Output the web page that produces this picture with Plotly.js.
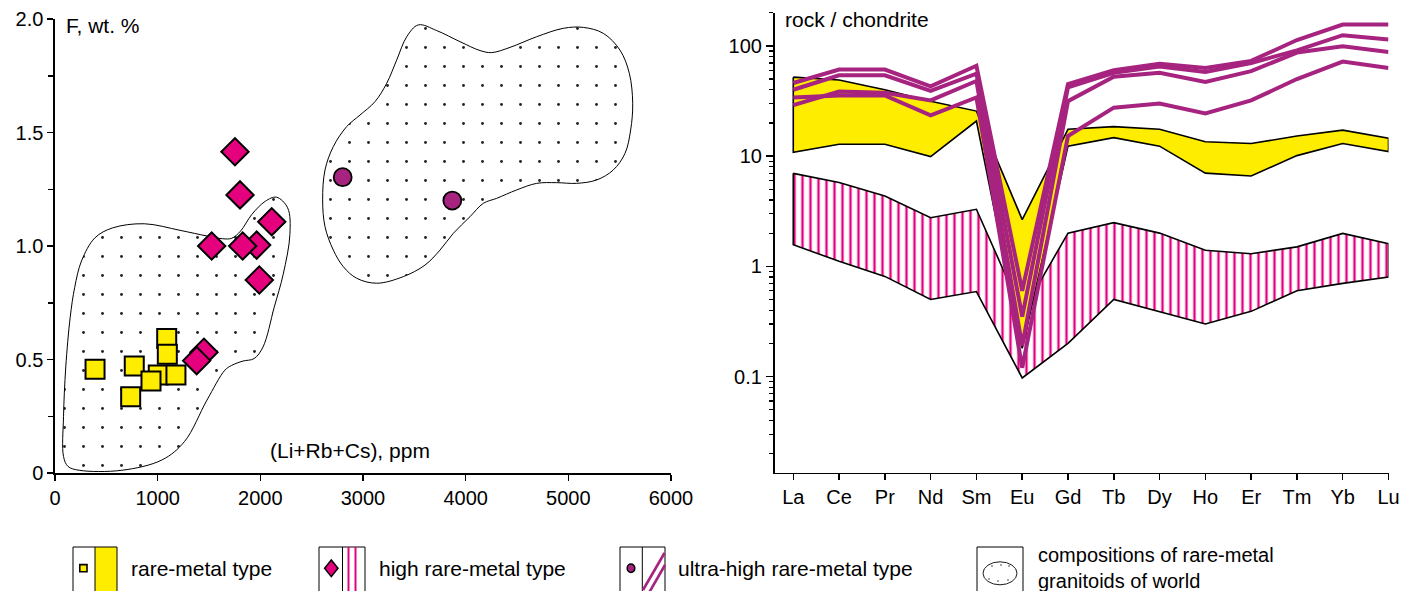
<!DOCTYPE html>
<html>
<head>
<meta charset="utf-8">
<script src="https://cdn.plot.ly/plotly-3.0.1.min.js"></script>
<style>html,body{margin:0;padding:0;background:#fff;}#chart{width:1411px;height:591px;}</style>
</head>
<body>
<div id="chart"></div>
<script>
// ---------- DATA: left diagram, F vs (Li+Rb+Cs) ----------
const rareX = [390, 772, 1088, 1094, 1006, 1178, 935, 737];
const rareY = [0.457, 0.471, 0.593, 0.523, 0.432, 0.432, 0.405, 0.336];
const highX = [1753, 1802, 2111, 1526, 1964, 1828, 1990, 1451, 1380];
const highY = [1.415, 1.225, 1.107, 1.0, 1.004, 1.0, 0.850, 0.532, 0.495];
const ultraX = [2802, 3870];
const ultraY = [1.303, 1.200];

// field outline: compositions of rare-metal granitoids of world (lower field)
const fieldLowX = [236, 651, 1044, 1262, 1480, 1655, 1721, 1830, 1939, 2026, 2135, 2223, 2288, 2266, 2157, 2048, 1917, 1808, 1721, 1633, 1480, 1218, 869, 563, 389, 258, 192, 148, 105, 83, 83, 127, 236];
const fieldLowY = [0.012, 0.012, 0.058, 0.139, 0.321, 0.453, 0.474, 0.493, 0.504, 0.555, 0.730, 0.876, 1.051, 1.168, 1.215, 1.197, 1.139, 1.066, 1.034, 1.032, 1.044, 1.069, 1.098, 1.080, 1.036, 0.934, 0.818, 0.686, 0.467, 0.248, 0.073, 0.029, 0.012];
// upper field
const fieldHighX = [3539, 3718, 3945, 4140, 4253, 4432, 4692, 4951, 5146, 5340, 5503, 5594, 5627, 5607, 5552, 5438, 5276, 5081, 4886, 4692, 4497, 4302, 4172, 4042, 3880, 3750, 3604, 3392, 3133, 2938, 2808, 2711, 2630, 2607, 2630, 2711, 2841, 2971, 3117, 3231, 3328, 3426, 3539];
const fieldHighY = [1.974, 1.949, 1.900, 1.861, 1.852, 1.875, 1.922, 1.959, 1.963, 1.937, 1.863, 1.761, 1.629, 1.511, 1.408, 1.335, 1.291, 1.276, 1.279, 1.276, 1.247, 1.210, 1.188, 1.129, 1.056, 0.982, 0.916, 0.865, 0.836, 0.858, 0.909, 0.982, 1.085, 1.203, 1.335, 1.438, 1.526, 1.577, 1.636, 1.717, 1.819, 1.922, 1.974];

const leftXTicks = [0, 1000, 2000, 3000, 4000, 5000, 6000];
const leftYTicks = [0, 0.5, 1.0, 1.5, 2.0];
const leftYTickText = ['0', '0.5', '1.0', '1.5', '2.0'];
const leftYMinor = [0.25, 0.75, 1.25, 1.75];

// ---------- DATA: right diagram, REE / chondrite ----------
const elements = ['La', 'Ce', 'Pr', 'Nd', 'Sm', 'Eu', 'Gd', 'Tb', 'Dy', 'Ho', 'Er', 'Tm', 'Yb', 'Lu'];
const rareUpper = [52, 49, 40, 31.5, 25.6, 2.65, 17.5, 18.5, 17.5, 13.5, 13, 15.2, 17.2, 14.5];
const rareLower = [10.8, 12.8, 12.8, 9.9, 20.8, 0.18, 12.3, 14.7, 12.3, 7.0, 6.6, 10.1, 13, 11];
const highUpper = [6.97, 5.75, 4.35, 2.76, 3.29, 0.38, 2.0, 2.49, 2.0, 1.40, 1.30, 1.50, 1.99, 1.60];
const highLower = [1.57, 1.11, 0.81, 0.50, 0.59, 0.097, 0.20, 0.50, 0.39, 0.30, 0.39, 0.60, 0.70, 0.80];
const ultra1 = [46, 61, 61, 43, 66, 0.6, 45, 60, 69, 63, 73, 113, 156, 156];
const ultra2 = [40, 54, 54, 39, 56, 0.35, 42, 57, 65, 58, 70, 91, 125, 114];
const ultra3 = [29, 38.5, 37.5, 32, 48, 0.19, 31.5, 52.5, 57, 47, 59, 87, 99, 88];
const ultra4 = [34, 35.5, 35.5, 23.4, 34, 0.12, 15.2, 27.5, 30, 24.4, 32, 50, 72, 63];
const rightYTicks = [0.1, 1, 10, 100];
const rightYTickText = ['0.1', '1', '10', '100'];

// ---------- styling ----------
const W = 1411, H = 591;
const px = v => v / W;
const py = v => 1 - v / H;
const FONT = 'Liberation Sans, Arial, Helvetica, sans-serif';
const YEL = '#ffed00', PINK = '#e5007e', PURP = '#a6237f';

function closedBand(up, lo) {
  const xs = elements.concat(elements.slice().reverse(), [elements[0]]);
  const ys = up.concat(lo.slice().reverse(), [up[0]]);
  return {xs, ys};
}
const rareBand = closedBand(rareUpper, rareLower);
const highBand = closedBand(highUpper, highLower);

const dotPattern = {shape: '.', size: 19, solidity: 0.018, fgcolor: '#222', bgcolor: 'rgba(255,255,255,0)'};

const traces = [
  {x: fieldLowX, y: fieldLowY, xaxis: 'x', yaxis: 'y', mode: 'lines', fill: 'toself', fillcolor: 'rgba(255,255,255,0)',
   fillpattern: dotPattern, line: {color: 'black', width: 1, shape: 'spline', smoothing: 1}},
  {x: fieldHighX, y: fieldHighY, xaxis: 'x', yaxis: 'y', mode: 'lines', fill: 'toself', fillcolor: 'rgba(255,255,255,0)',
   fillpattern: dotPattern, line: {color: 'black', width: 1, shape: 'spline', smoothing: 1}},
  {x: rareX, y: rareY, xaxis: 'x', yaxis: 'y', mode: 'markers',
   marker: {symbol: 'square', size: 19, color: YEL, line: {color: 'black', width: 2}}},
  {x: highX, y: highY, xaxis: 'x', yaxis: 'y', mode: 'markers',
   marker: {symbol: 'diamond', size: 21, color: PINK, line: {color: 'black', width: 2}}},
  {x: ultraX, y: ultraY, xaxis: 'x', yaxis: 'y', mode: 'markers',
   marker: {symbol: 'circle', size: 18, color: PURP, line: {color: 'black', width: 1.8}}},

  {x: highBand.xs, y: highBand.ys, xaxis: 'x2', yaxis: 'y2', mode: 'lines', fill: 'toself', fillcolor: 'rgba(255,255,255,0)',
   fillpattern: {shape: '|', size: 8, solidity: 0.3, fgcolor: PINK, bgcolor: 'white'}, line: {color: 'black', width: 1.6}},
  {x: rareBand.xs, y: rareBand.ys, xaxis: 'x2', yaxis: 'y2', mode: 'lines', fill: 'toself', fillcolor: YEL,
   line: {color: 'black', width: 1.6}}
];
[ultra1, ultra2, ultra3, ultra4].forEach(u => traces.push({
  x: elements, y: u, xaxis: 'x2', yaxis: 'y2', mode: 'lines', line: {color: PURP, width: 4}
}));

const minorLog = [];
[0.01, 0.1, 1, 10, 100].forEach(d => { for (let k = 2; k <= 9; k++) { const v = +(d * k).toPrecision(3); if (v <= 200 && v >= 0.014) minorLog.push(v); } });

const tickfont = {family: FONT, size: 20, color: 'black'};
const axBase = {showgrid: false, zeroline: false, showline: true, linecolor: 'black', linewidth: 1.6,
  ticks: 'outside', ticklen: 6, tickwidth: 1.5, tickcolor: 'black', tickfont: tickfont, fixedrange: true};

// legend shapes
const shapes = [];
function vline(x, y0, y1, color, w) { shapes.push({type: 'line', xref: 'paper', yref: 'paper', x0: px(x), x1: px(x), y0: py(y0), y1: py(y1), line: {color: color, width: w}}); }
function seg(x0, y0, x1, y1, color, w) { shapes.push({type: 'line', xref: 'paper', yref: 'paper', x0: px(x0), x1: px(x1), y0: py(y0), y1: py(y1), line: {color: color, width: w}}); }
function rect(x0, x1, y0, y1, fill, lc, lw) { shapes.push({type: 'rect', xref: 'paper', yref: 'paper', x0: px(x0), x1: px(x1), y0: py(y0), y1: py(y1), fillcolor: fill, line: {color: lc, width: lw}}); }
function ell(cx, cy, rx, ry, fill, lc, lw) { shapes.push({type: 'circle', xref: 'paper', yref: 'paper', x0: px(cx - rx), x1: px(cx + rx), y0: py(cy - ry), y1: py(cy + ry), fillcolor: fill, line: {color: lc, width: lw}}); }

const boxTop = 547, boxBot = 600;
// box 1
rect(95, 117, boxTop, boxBot, YEL, 'rgba(0,0,0,0)', 0);
rect(73, 117, boxTop, boxBot, 'rgba(0,0,0,0)', 'black', 1);
vline(95, boxTop, boxBot, 'black', 1);
rect(79.8, 87, 564.6, 571.8, YEL, 'black', 1.6);
// box 2
rect(319, 365, boxTop, boxBot, 'rgba(0,0,0,0)', 'black', 1);
vline(342.5, boxTop, boxBot, 'black', 1);
vline(348.5, boxTop, boxBot, PINK, 2);
vline(355.5, boxTop, boxBot, PINK, 2);
shapes.push({type: 'path', xref: 'paper', yref: 'paper',
  path: 'M' + px(331.3) + ',' + py(560) + ' L' + px(338) + ',' + py(568.3) + ' L' + px(331.3) + ',' + py(576.6) + ' L' + px(324.6) + ',' + py(568.3) + ' Z',
  fillcolor: PINK, line: {color: 'black', width: 1.5}});
// box 3
rect(620, 665, boxTop, boxBot, 'rgba(0,0,0,0)', 'black', 1);
vline(642.3, boxTop, boxBot, 'black', 1);
seg(643, 590, 664.5, 553, PURP, 2.6);
seg(646, 598, 665, 565, PURP, 2.6);
ell(631, 568.3, 3.8, 4.2, PURP, 'black', 1.5);
// box 4
rect(977, 1023, boxTop, boxBot, 'rgba(0,0,0,0)', 'black', 1);
ell(1000, 573.3, 17, 11.5, 'rgba(0,0,0,0)', 'black', 0.9);
[[992, 566], [1001, 565], [1009, 566], [989, 579], [998, 581], [1008, 580]].forEach(d => ell(d[0], d[1], 0.6, 0.6, '#555', '#555', 0.5));

const annFont = {family: FONT, size: 21, color: 'black'};
function pann(text, x, y, size) { return {text: text, xref: 'paper', yref: 'paper', x: px(x), y: py(y), xanchor: 'left', yanchor: 'middle', align: 'left', showarrow: false,
  font: {family: FONT, size: size || 21, color: 'black'}}; }

const layout = {
  width: W, height: H,
  margin: {l: 0, r: 0, t: 0, b: 0},
  paper_bgcolor: 'white', plot_bgcolor: 'rgba(0,0,0,0)',
  showlegend: false, hovermode: false,
  xaxis: Object.assign({}, axBase, {domain: [px(55), px(671)], range: [0, 6000], tickmode: 'array', tickvals: leftXTicks, anchor: 'y'}),
  yaxis: Object.assign({}, axBase, {domain: [py(473), py(19)], range: [0, 2], tickmode: 'array', tickvals: leftYTicks, ticktext: leftYTickText, anchor: 'x',
    minor: {tickmode: 'array', tickvals: leftYMinor, ticks: 'outside', ticklen: 5, tickwidth: 1.5, tickcolor: 'black'}}),
  xaxis2: Object.assign({}, axBase, {domain: [px(774.5), px(1388.5)], type: 'category', categoryorder: 'array', categoryarray: elements,
    range: [-0.41, 13], anchor: 'y2'}),
  yaxis2: Object.assign({}, axBase, {domain: [py(472.7), py(12.7)], type: 'log', range: [Math.log10(0.0134), Math.log10(200)],
    tickmode: 'array', tickvals: rightYTicks, ticktext: rightYTickText, anchor: 'x2', ticklen: 7,
    minor: {tickmode: 'array', tickvals: minorLog, ticks: 'outside', ticklen: 4, tickwidth: 1.2, tickcolor: 'black'}}),
  shapes: shapes,
  annotations: [
    {text: 'F, wt. %', xref: 'x', yref: 'y', x: 90, y: 1.97, xanchor: 'left', yanchor: 'middle', showarrow: false, font: annFont},
    {text: '(Li+Rb+Cs), ppm', xref: 'x', yref: 'y', x: 2075, y: 0.097, xanchor: 'left', yanchor: 'middle', showarrow: false, font: annFont},
    {text: 'rock / chondrite', xref: 'x2', yref: 'y2', x: -0.22, y: 2.236, xanchor: 'left', yanchor: 'middle', showarrow: false, font: annFont},
    pann('rare-metal type', 129, 568),
    pann('high rare-metal type', 377, 568),
    pann('ultra-high rare-metal type', 676, 568),
    pann('compositions of rare-metal<br>granitoids of world', 1036, 568, 20)
  ]
};

Plotly.newPlot('chart', traces, layout, {displayModeBar: false, staticPlot: true});
</script>
</body>
</html>
